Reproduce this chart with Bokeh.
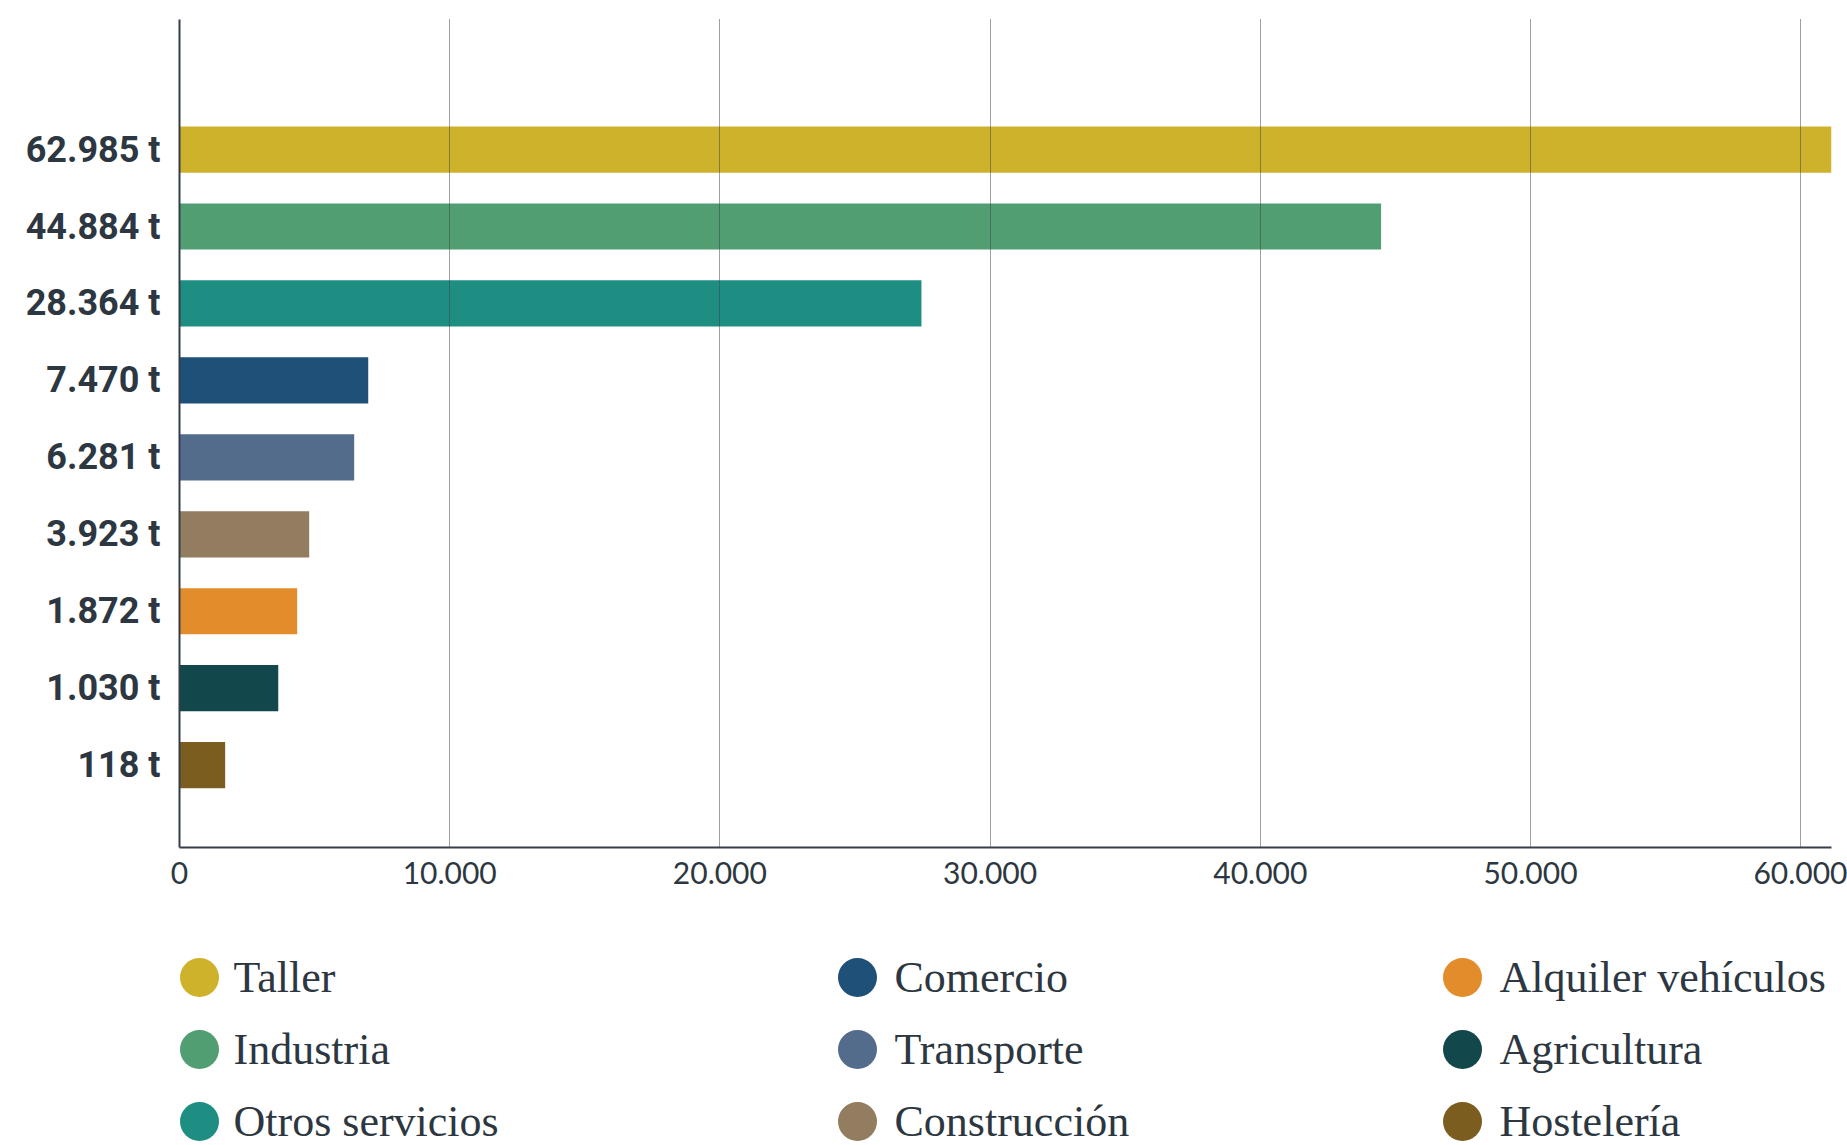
from bokeh.plotting import figure
from bokeh.layouts import column
from bokeh.models import Range1d, FixedTicker, ColumnDataSource
from bokeh.embed import file_html
from bokeh.resources import INLINE
from bokeh.core.properties import value

# ---------------- data ----------------
categories = ["Taller", "Industria", "Otros servicios", "Comercio", "Transporte",
              "Construcción", "Alquiler vehículos", "Agricultura", "Hostelería"]
value_labels = ["62.985 t", "44.884 t", "28.364 t", "7.470 t", "6.281 t",
                "3.923 t", "1.872 t", "1.030 t", "118 t"]
# bar lengths as drawn in the chart
bar_lengths = [62985, 44470, 27460, 6985, 6465, 4800, 4355, 3655, 1690]
colors = ["#cfb22b", "#519e72", "#1f8e82", "#1f5077", "#546c8c",
          "#937d60", "#e28c2b", "#12474c", "#7b5d20"]
x_ticks = [0, 10000, 20000, 30000, 40000, 50000, 60000]

# ---------------- styling ----------------
TEXT = "#2d3741"
AXIS = "#333e48"
W = 1847
H_MAIN = 920
H_LEG = 225
LEFT = 179
RIGHT = 16

positions = list(range(len(categories)))

src = ColumnDataSource(dict(pos=positions, length=bar_lengths, color=colors,
                            cat=categories))

p = figure(width=W, height=H_MAIN, output_backend="svg", toolbar_location=None,
           x_range=Range1d(0, 61140), y_range=Range1d(9.07, -1.69),
           min_border_left=LEFT, min_border_right=RIGHT, min_border_top=19,
           min_border_bottom=73)
p.outline_line_color = None
p.background_fill_color = "white"
p.border_fill_color = "white"

p.hbar(y="pos", left=0, right="length", height=0.6, fill_color="color",
       line_color=None, source=src)

# x axis
p.xaxis.ticker = FixedTicker(ticks=x_ticks)
p.xaxis.major_label_overrides = {t: f"{t:,}".replace(",", ".") for t in x_ticks}
p.xaxis.axis_line_color = AXIS
p.xaxis.axis_line_width = 2
p.xaxis.major_tick_line_color = None
p.xaxis.minor_tick_line_color = None
p.xaxis.major_tick_out = 0
p.xaxis.major_label_standoff = 14
p.xaxis.major_label_text_font = "Lato"
p.xaxis.major_label_text_font_size = "30px"
p.xaxis.major_label_text_color = TEXT

# y axis
p.yaxis.ticker = FixedTicker(ticks=positions)
p.yaxis.major_label_overrides = {i: lab for i, lab in zip(positions, value_labels)}
p.yaxis.axis_line_color = AXIS
p.yaxis.axis_line_width = 2
p.yaxis.major_tick_line_color = None
p.yaxis.minor_tick_line_color = None
p.yaxis.major_tick_out = 0
p.yaxis.major_label_standoff = 19
p.yaxis.major_label_text_font = "Roboto"
p.yaxis.major_label_text_font_style = "bold"
p.yaxis.major_label_text_font_size = "36px"
p.yaxis.major_label_text_color = TEXT

# grid
p.ygrid.grid_line_color = None
p.xgrid.grid_line_color = "#3c4248"
p.xgrid.grid_line_width = 1
p.xgrid.grid_line_dash = "1 1"
p.xgrid.level = "overlay"

# ---------------- legend (separate figure, page-pixel coordinates) ----------------
col_x = [199, 857, 1462]
col_text_x = [233, 894, 1499]
row_y0 = 57
row_pitch = 72

lx = [col_x[i // 3] for i in range(len(categories))]
ltx = [col_text_x[i // 3] for i in range(len(categories))]
ly = [row_y0 + row_pitch * (i % 3) for i in range(len(categories))]
lsrc = ColumnDataSource(dict(x=lx, y=ly, tx=ltx, ty=ly, color=colors, cat=categories))

lg = figure(width=W, height=H_LEG, output_backend="svg", toolbar_location=None,
            x_range=Range1d(LEFT, W - RIGHT), y_range=Range1d(H_LEG, 0),
            x_axis_location=None, y_axis_location=None,
            min_border_left=LEFT, min_border_right=RIGHT,
            min_border_top=0, min_border_bottom=0)
lg.outline_line_color = None
lg.grid.visible = False
lg.scatter(x="x", y="y", size=39, marker="circle", fill_color="color",
           line_color=None, source=lsrc)
lg.text(x="tx", y="ty", text="cat", source=lsrc, text_font=value("Liberation Serif"),
        text_font_size="44px", text_color=TEXT, text_baseline="middle",
        text_align="left")

layout = column(p, lg, spacing=0)
open("out.html", "w").write(file_html(layout, INLINE))
